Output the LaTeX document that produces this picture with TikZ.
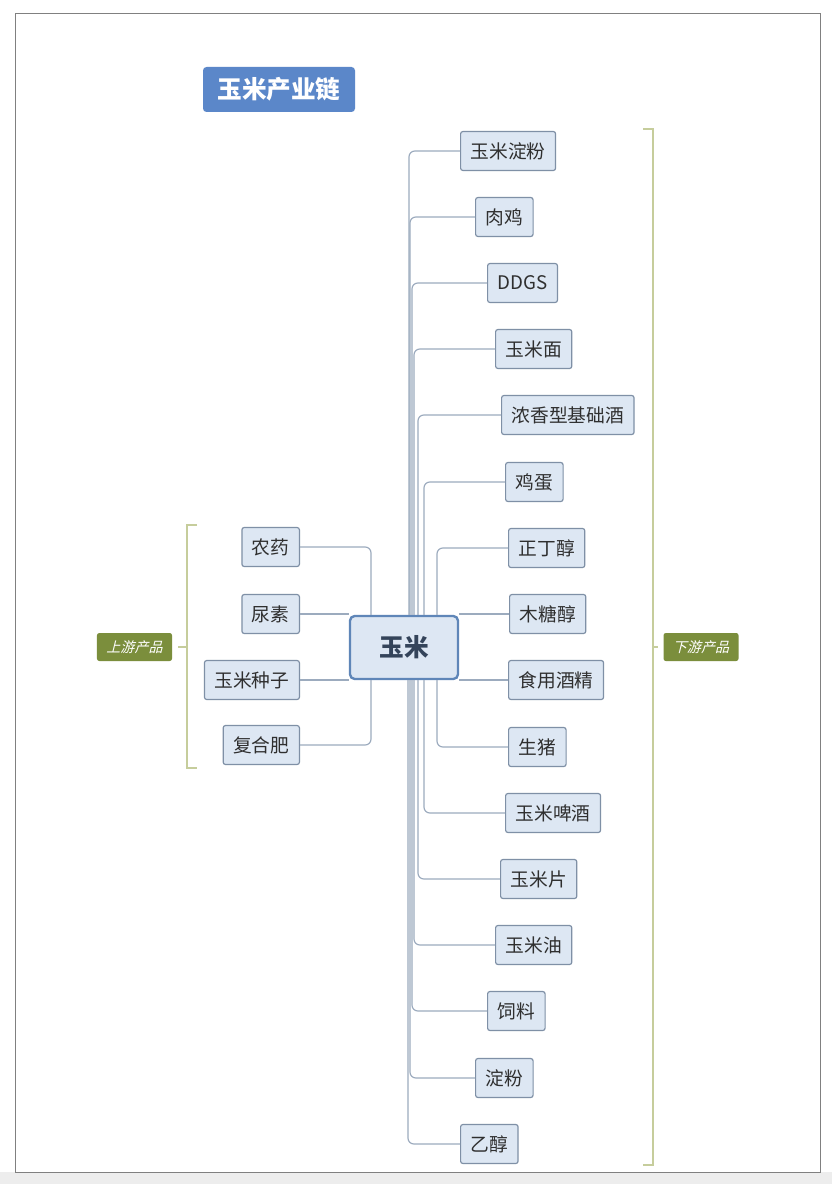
\documentclass[tikz,border=0pt]{standalone}
\usepackage{fontspec}
\setmainfont{Noto Sans CJK SC}
\newfontfamily\slantcjk[FakeSlant=0.25]{Noto Sans CJK SC}
\usetikzlibrary{calc}
\definecolor{itemfill}{HTML}{DDE7F3}
\definecolor{itemline}{HTML}{7F90A6}
\definecolor{itemtext}{HTML}{2F2F2F}
\definecolor{mainline}{HTML}{5F86B8}
\definecolor{maintext}{HTML}{34445A}
\definecolor{titleblue}{HTML}{5B87C9}
\definecolor{linkgray}{HTML}{9CABBE}
\definecolor{bracegreen}{HTML}{C6CD9C}
\definecolor{tagolive}{HTML}{7B8E3C}
\tikzset{item/.style = {draw=itemline, fill=itemfill, rounded corners=2pt, line width=1pt,
                        text=itemtext, font=\fontsize{16}{16}\selectfont,
                        inner xsep=0.3cm, minimum height=1.17cm}}
\tikzset{link/.style = {draw=linkgray, line width=1pt, rounded corners=5pt}}
\tikzset{brace/.style = {draw=bracegreen, line width=2.5pt}}
\tikzset{tag/.style = {fill=tagolive, text=white, rounded corners=2pt,
                       font=\slantcjk\fontsize{12}{12}\selectfont,
                       minimum width=2.25cm, minimum height=0.84cm}}

\begin{document}
\begin{tikzpicture}[x=0.03cm, y=-0.03cm]
  \useasboundingbox (0,0) rectangle (832,1184);
  \fill [white] (0,0) rectangle (832,1184);
  \fill [black!7] (0,1172) rectangle (832,1184);
  \draw [black!50, line width=0.8pt] (15,13) rectangle (820,1172);

  % title
  \node [fill=titleblue, text=white, rounded corners=3pt, font=\bfseries\fontsize{21}{21}\selectfont,
         minimum width=4.56cm, minimum height=1.35cm] (title) at (279,89.5) {玉米产业链};

  % centre
  \node [item, draw=mainline, line width=2pt, rounded corners=4pt, text=maintext,
         font=\bfseries\fontsize{21}{21}\selectfont,
         minimum width=3.24cm, minimum height=1.89cm] (c) at (404,647.5) {玉米};

  % upstream
  \node [item, anchor=east] (l1) at (300,547) {农药};
  \node [item, anchor=east] (l2) at (300,614) {尿素};
  \node [item, anchor=east] (l3) at (300,680) {玉米种子};
  \node [item, anchor=east] (l4) at (300,745) {复合肥};

  \draw [link] (l1.east) -| ($(c.north)+(-33,0)$);
  \draw [link] (l2.east) -- (c.west |- l2.east);
  \draw [link] (l3.east) -- (c.west |- l3.east);
  \draw [link] (l4.east) -| ($(c.south)+(-33,0)$);

  % downstream
  \foreach \n/\x/\y/\t in {r1/460/151/玉米淀粉, r2/475/217/肉鸡, r3/487/283/DDGS,
                           r4/495/349/玉米面, r5/501/415/浓香型基础酒, r6/505/482/鸡蛋,
                           r7/508/548/正丁醇, r8/509/614/木糖醇, r9/508/680/食用酒精,
                           r10/508/747/生猪, r11/505/813/玉米啤酒, r12/500/879/玉米片,
                           r13/495/945/玉米油, r14/487/1011/饲料, r15/475/1078/淀粉,
                           r16/460/1144/乙醇}
    \node [item, anchor=west] (\n) at (\x,\y) {\t};

  \foreach \n/\d in {r1/5, r2/6, r3/8, r4/10, r5/14, r6/20, r7/33}
    \draw [link] ($(c.north)+(\d,0)$) |- (\n.west);
  \foreach \n/\d in {r10/33, r11/20, r12/14, r13/10, r14/8, r15/6, r16/4}
    \draw [link] ($(c.south)+(\d,0)$) |- (\n.west);
  \draw [link] (c.east |- r8.west) -- (r8.west);
  \draw [link] (c.east |- r9.west) -- (r9.west);

  % brackets
  \draw [brace] (197,525) -- (187,525) -- (187,768) -- (197,768);
  \coordinate (ul) at (187,647);
  \node [tag] (up) at (134.5,647) {上游产品};
  \draw [brace] (ul) -- ($(up.east)+(6,0)$);

  \draw [brace] (643,129) -- (653,129) -- (653,1165) -- (643,1165);
  \coordinate (ur) at (653,647);
  \node [tag] (down) at (701,647) {下游产品};
  \draw [brace] (ur) -- ($(down.west)+(-5,0)$);
\end{tikzpicture}
\end{document}
